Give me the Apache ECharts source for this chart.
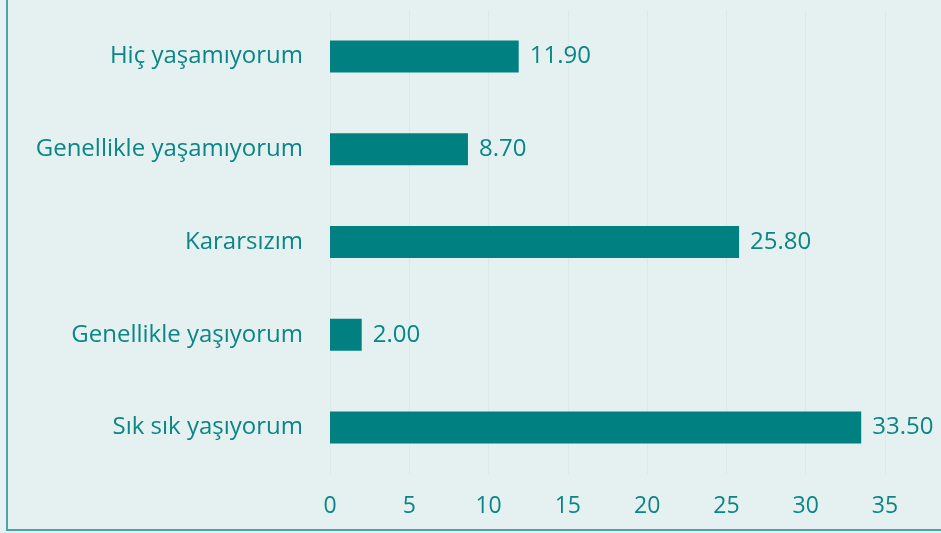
<!DOCTYPE html>
<html>
<head>
<meta charset="utf-8">
<script src="https://cdn.jsdelivr.net/npm/echarts@6/dist/echarts.min.js"></script>
<style>
  html, body { margin: 0; padding: 0; background: #e5f1f1; }
  #frame {
    position: absolute; left: 6px; top: 0; width: 940px; height: 529px;
    border-left: 2px solid #4da4a4; border-bottom: 2px solid #4da4a4;
  }
  #chart { position: absolute; left: 0; top: 0; width: 941px; height: 533px; }
</style>
</head>
<body>
<div id="frame"></div>
<div id="chart"></div>
<script>
// categories listed bottom to top (category axis draws first item at the bottom)
const categories = [
  "Sık sık yaşıyorum",
  "Genellikle yaşıyorum",
  "Kararsızım",
  "Genellikle yaşamıyorum",
  "Hiç yaşamıyorum",
];
const values = [33.5, 2.0, 25.8, 8.7, 11.9];
const xTicks = [0, 5, 10, 15, 20, 25, 30, 35];

const teal = "#008080";
const textColor = "#0b8585";
const font = "Open Sans";

const chart = echarts.init(document.getElementById("chart"));
chart.setOption({
  animation: false,
  grid: { left: 330, right: 56, top: 10, bottom: 59, containLabel: false },
  xAxis: {
    type: "value",
    min: xTicks[0],
    max: xTicks[xTicks.length - 1],
    interval: 5,
    axisLine: { show: false },
    axisTick: { show: false },
    splitLine: { show: true, lineStyle: { color: "#dce9e9", width: 1 } },
    axisLabel: {
      color: textColor,
      fontFamily: font,
      fontSize: 23,
      margin: 21,
    },
  },
  yAxis: {
    type: "category",
    data: categories,
    axisLine: { show: false },
    axisTick: { show: false },
    axisLabel: {
      color: textColor,
      fontFamily: font,
      fontSize: 24,
      margin: 27,
      padding: [4, 0, 0, 0],
    },
  },
  series: [
    {
      type: "bar",
      data: values,
      barWidth: 32,
      itemStyle: { color: teal },
      label: {
        show: true,
        position: "right",
        distance: 11,
        color: textColor,
        fontFamily: font,
        fontSize: 24,
        padding: [4, 0, 0, 0],
        formatter: (p) => p.value.toFixed(2),
      },
    },
  ],
});
</script>
</body>
</html>
